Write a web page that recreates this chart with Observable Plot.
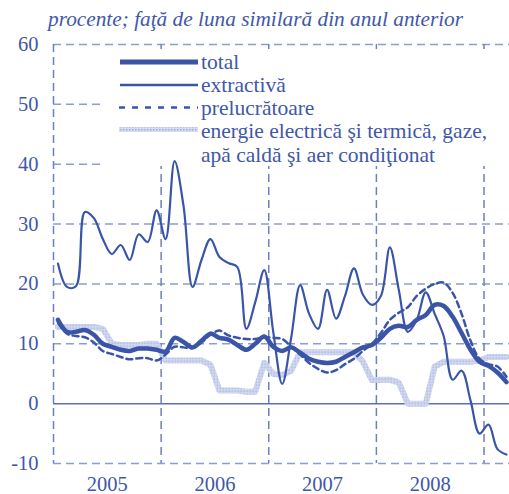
<!DOCTYPE html>
<html><head><meta charset="utf-8">
<script src="https://cdn.jsdelivr.net/npm/d3@7"></script>
<script src="https://cdn.jsdelivr.net/npm/@observablehq/plot@0.6"></script>
<style>body{margin:0;background:#fff}</style>
</head><body><div id="chart"></div>
<script>
// months: index 0 = Jan 2005
const years = ["2005", "2006", "2007", "2008"];
const yearCenters = [5.5, 17.5, 29.5, 41.5];
const yearBounds = [-0.5, 11.5, 23.5, 35.5, 47.5];
const yTicks = [-10, 0, 10, 20, 30, 40, 50, 60];
const title = "procente; faţă de luna similară din anul anterior";
const legendLabels = ["total", "extractivă", "prelucrătoare", "energie electrică şi termică, gaze,", "apă caldă şi aer condiţionat"];

const total = [14, 12, 12, 12.3, 11.5, 10, 9.5, 9, 8.8, 9.2, 9.2, 9, 8.7, 11, 10.3, 9.4, 10.5, 11.7, 11, 10.7,
  9.8, 9, 10, 11.2, 9.5, 8.8, 9.4, 8.5, 7.5, 7, 6.8, 7, 7.8, 8.6, 9.4, 9.8, 11, 12.5, 13, 12.8,
  14, 14.8, 16.5, 16.3, 14.5, 11.8, 9, 7, 6.3, 5.2, 3.6];
const extractiva = [23.4, 19.5, 19.6, 32, 31, 27.5, 25, 26.5, 24, 28.3, 27, 32.3, 27.5, 40.5, 33, 19.5, 24, 27.5, 24.5, 23.5,
  22.8, 12.5, 17, 22.3, 12, 3.3, 11, 19.8, 15, 12.5, 19, 14.2, 18, 22.6, 18.2, 16.5, 18, 26.1, 19, 12,
  14, 18.6, 15, 11.3, 4, 5.5, 0.5, -5, -3.5, -7.6, -8.5];
const prelucratoare = [13.5, 11.7, 11.3, 11.1, 10.2, 8.8, 8.3, 7.8, 7.4, 7.6, 7.6, 7.2, 8.2, 9.5, 9.4, 9.3, 10.2, 11.5, 12.2, 11.4,
  11, 10.8, 10.8, 11.1, 11, 10.8, 9.5, 8.2, 6.8, 5.8, 5.2, 5.6, 6.6, 7.5, 8.8, 10, 11.8, 14, 15.2, 16.1,
  18, 19.2, 20, 20.2, 18.5, 15, 10.5, 7.5, 6.6, 6.2, 4.5];
const energie = [12.8, 12.8, 12.8, 12.8, 12.8, 12.5, 10, 9.8, 9.8, 9.8, 10, 10, 7.2, 7.2, 7.2, 7.2, 7.2, 6.5, 2.2, 2.2,
  2.2, 2, 2, 6.8, 5, 4.8, 5.5, 8.6, 8.6, 8.6, 8.6, 8.6, 8.6, 8.6, 7, 3.9, 4, 4, 3.5, 0,
  0, 0, 6.2, 7, 7, 7, 7, 7.2, 7.8, 7.8, 7.8];

const blue = "#3a55a8";
const textBlue = "#3f58a8";
const rows = arr => arr.map((v, i) => ({i, v}));

function legendMark() {
  const g = d3.create("svg:g");
  const defs = g.append("defs");
  const p = defs.append("pattern").attr("id", "hatch").attr("patternUnits", "userSpaceOnUse")
    .attr("width", 3).attr("height", 3);
  p.append("rect").attr("width", 3).attr("height", 3).attr("fill", "#d6dcf2");
  p.append("rect").attr("width", 1.5).attr("height", 1.5).attr("fill", "#9dacdb");
  g.append("rect").attr("x", 102).attr("y", 49).attr("width", 407).attr("height", 117).attr("fill", "white");
  const sx1 = 120, sx2 = 198;
  g.append("line").attr("x1", sx1).attr("x2", sx2).attr("y1", 62).attr("y2", 62)
    .attr("stroke", blue).attr("stroke-width", 5);
  g.append("line").attr("x1", sx1).attr("x2", sx2).attr("y1", 85).attr("y2", 85)
    .attr("stroke", blue).attr("stroke-width", 2.5);
  g.append("line").attr("x1", sx1 - 1).attr("x2", sx2).attr("y1", 107.5).attr("y2", 107.5)
    .attr("stroke", blue).attr("stroke-width", 2.5).attr("stroke-dasharray", "6 7");
  g.append("line").attr("x1", sx1 - 1).attr("x2", sx2).attr("y1", 129.5).attr("y2", 129.5)
    .attr("stroke", "url(#hatch)").attr("stroke-width", 5);
  const baselines = [69, 92, 114.5, 137.5, 161.5];
  legendLabels.forEach((t, k) => {
    g.append("text").attr("x", 201).attr("y", baselines[k])
      .attr("style", `fill:${textBlue};font-family:'Liberation Serif',serif;font-size:21.5px;text-anchor:start`)
      .text(t);
  });
  g.append("text").attr("x", 48).attr("y", 26)
    .attr("style", `fill:${textBlue};font-family:'Liberation Serif',serif;font-style:italic;font-size:21.3px;text-anchor:start`)
    .text(title);
  return g.node();
}

const plot = Plot.plot({
  width: 509, height: 494,
  marginTop: 44, marginBottom: 31, marginLeft: 53, marginRight: 0,
  x: {type: "linear", domain: [-0.5, 50.34]},
  y: {domain: [-10, 60]},
  style: {fontFamily: "'Liberation Serif', serif", fontSize: "20px", color: textBlue, background: "white", overflow: "visible"},
  marks: [
    Plot.ruleY(yTicks.filter(d => d !== 0), {stroke: "#8d9cd2", strokeWidth: 1.5, strokeDasharray: "8 5"}),
    Plot.ruleX(yearBounds, {stroke: "#6b80c2", strokeWidth: 1.5, strokeDasharray: "8 5"}),
    Plot.ruleY([0], {stroke: "#5a70b8", strokeWidth: 1.5}),
    legendMark,
    Plot.axisY({ticks: yTicks, tickSize: 0, tickPadding: 15, tickFormat: d => String(d), label: null, fontSize: 20.5}),
    Plot.axisX({ticks: yearCenters, tickSize: 0, tickPadding: 13, label: null, fontSize: 20.5,
      tickFormat: d => years[Math.round((d - 5.5) / 12)]}),
    Plot.line(rows(energie), {x: "i", y: "v", stroke: "url(#hatch)", strokeWidth: 6}),
    Plot.line(rows(prelucratoare), {x: "i", y: "v", stroke: blue, strokeWidth: 2.5, strokeDasharray: "6 4", curve: "catmull-rom"}),
    Plot.line(rows(extractiva), {x: "i", y: "v", stroke: blue, strokeWidth: 2.2, curve: "catmull-rom"}),
    Plot.line(rows(total), {x: "i", y: "v", stroke: blue, strokeWidth: 4.5, curve: "catmull-rom"})
  ]
});
document.getElementById("chart").append(plot);
</script>
</body></html>
